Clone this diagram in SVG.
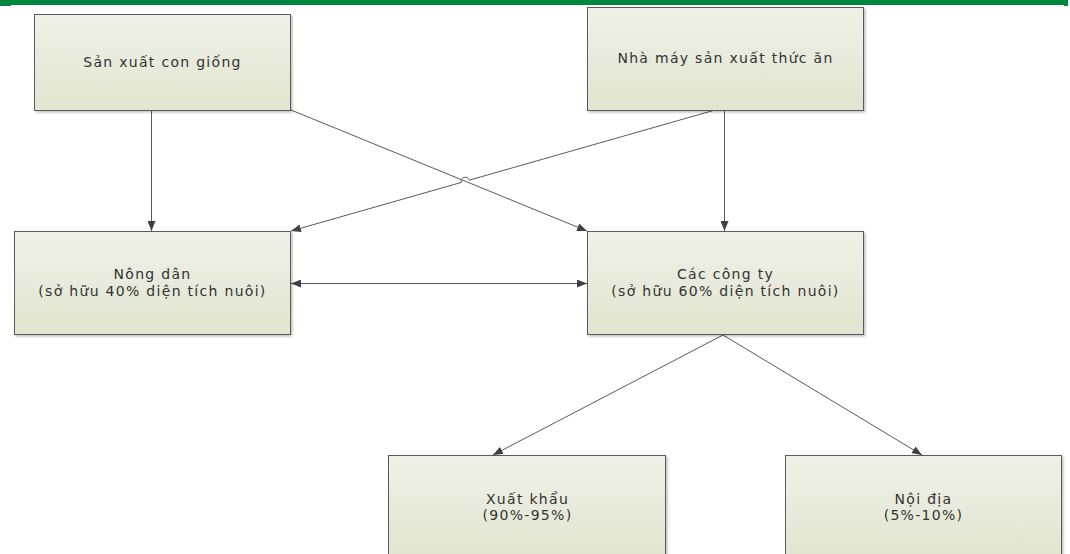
<svg xmlns="http://www.w3.org/2000/svg" width="1070" height="554" viewBox="0 0 1070 554">
<defs>
<linearGradient id="g" x1="0" y1="0" x2="0" y2="1">
<stop offset="0" stop-color="#eff1e7"/>
<stop offset="1" stop-color="#e1e5cf"/>
</linearGradient>
<filter id="sh" x="-5%" y="-5%" width="110%" height="110%">
<feDropShadow dx="1.5" dy="1.5" stdDeviation="1" flood-color="#000" flood-opacity="0.25"/>
</filter>
<marker id="ah" viewBox="0 0 10 8" refX="10" refY="4" markerWidth="10" markerHeight="8" markerUnits="userSpaceOnUse" orient="auto-start-reverse">
<path d="M0,0 L10,4 L0,8 z" fill="#404040"/>
</marker>
</defs>
<style>
.box{fill:url(#g);stroke:#5a5a5a;stroke-width:1;filter:url(#sh)}
.t{font-family:"DejaVu Sans",Verdana,sans-serif;font-size:14px;letter-spacing:1.3px;fill:#333;text-anchor:middle}
.c{fill:none;stroke:#5a5a5a;stroke-width:1}
</style>
<rect x="0" y="0" width="1068" height="5" fill="#00873f"/>
<rect x="0" y="0" width="11" height="6" fill="#00873f"/>
<rect x="1064" y="0" width="4" height="6" fill="#00873f"/>
<g id="connectors">
<path class="c" d="M151.5,110 L151.5,231" marker-end="url(#ah)"/>
<path class="c" d="M291,110 L587,231" marker-end="url(#ah)"/>
<path class="c" d="M724.5,110 L724.5,231" marker-end="url(#ah)"/>
<path class="c" d="M715,110 L469.15,180.2 A4,4 0 0 0 461.45,182.4 L291,231" marker-end="url(#ah)"/>
<path class="c" d="M291,283.5 L587,283.5" marker-start="url(#ah)" marker-end="url(#ah)"/>
<path class="c" d="M723,335 L493,455" marker-end="url(#ah)"/>
<path class="c" d="M723,335 L922,455" marker-end="url(#ah)"/>
</g>
<g id="n1">
<rect class="box" x="34.5" y="14.5" width="256" height="96"/>
<text class="t" x="162.5" y="67">Sản xuất con giống</text>
</g>
<g id="n2">
<rect class="box" x="587.5" y="7.5" width="276" height="103"/>
<text class="t" x="725.5" y="63">Nhà máy sản xuất thức ăn</text>
</g>
<g id="n3">
<rect class="box" x="14.5" y="231.5" width="276" height="103"/>
<text class="t" x="152.5" y="279">Nông dân</text>
<text class="t" x="152.5" y="296">(sở hữu 40% diện tích nuôi)</text>
</g>
<g id="n4">
<rect class="box" x="587.5" y="231.5" width="276" height="103"/>
<text class="t" x="725.5" y="279">Các công ty</text>
<text class="t" x="725.5" y="296">(sở hữu 60% diện tích nuôi)</text>
</g>
<g id="n5">
<rect class="box" x="388.5" y="455.5" width="277" height="104"/>
<text class="t" x="527.5" y="504">Xuất khẩu</text>
<text class="t" x="527.5" y="520">(90%-95%)</text>
</g>
<g id="n6">
<rect class="box" x="785.5" y="455.5" width="276" height="104"/>
<text class="t" x="923.5" y="504">Nội địa</text>
<text class="t" x="923.5" y="520">(5%-10%)</text>
</g>
</svg>
